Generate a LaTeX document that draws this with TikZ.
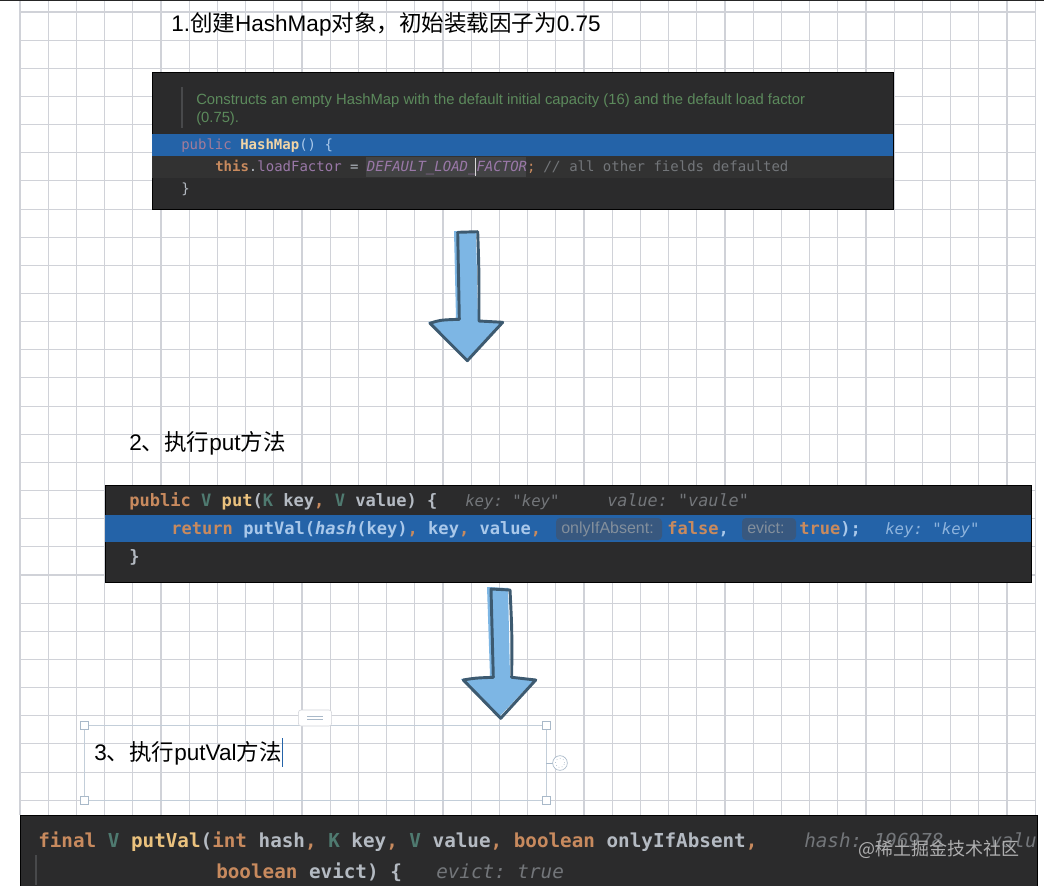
\documentclass[tikz,border=0pt]{standalone}
\usepackage{fontspec}
\setmainfont{Liberation Sans}
\setmonofont{DejaVu Sans Mono}
\newfontfamily\cjk{Noto Sans CJK SC}
\usepackage{xcolor}
\usetikzlibrary{positioning, calc}
\definecolor{gridgray}{HTML}{D0D2D8}
\definecolor{panelbg}{HTML}{2B2B2C}
\definecolor{barblue}{HTML}{2463A8}
\definecolor{rowbg}{HTML}{323232}
\definecolor{arrowfill}{HTML}{7DB6E4}
\definecolor{arrowline}{HTML}{3D5A70}
\definecolor{kwcolor}{HTML}{C88A5E}
\definecolor{fncolor}{HTML}{EBC27E}
\definecolor{plain}{HTML}{B4BAC2}
\definecolor{hint}{HTML}{73767A}
\definecolor{tycolor}{HTML}{4F7A70}
\definecolor{doccolor}{HTML}{5C8A5C}
\definecolor{purplecode}{HTML}{9A78A8}
\definecolor{onbar}{HTML}{A9C8EA}
\definecolor{inlaybg}{HTML}{38587F}
\definecolor{handlecol}{HTML}{A9B9C9}
\newcommand{\kw}[1]{\textcolor{kwcolor}{#1}}
\newcommand{\fn}[1]{\textcolor{fncolor}{#1}}
\newcommand{\ty}[1]{\textcolor{tycolor}{#1}}
\newcommand{\sep}[1]{\textcolor{kwcolor}{#1}}
\newcommand{\ob}{\itshape}
\tikzset{
  gridline/.style={gridgray, line width=0.8pt},
  panel/.style={fill=panelbg, draw=black, line width=0.6pt},
  titletext/.style={anchor=base west, inner sep=0pt, font=\fontsize{16.9}{18}\selectfont, text=black},
  doctext/.style={anchor=base west, inner sep=0pt, font=\fontsize{11.1}{13}\selectfont, text=doccolor},
  inlaytext/.style={anchor=base west, inner sep=0pt, font=\fontsize{12}{14}\selectfont, text=hint!70!onbar},
  codeA/.style={anchor=base west, inner sep=0pt, font=\ttfamily\fontsize{10.5}{12}\selectfont, text=plain},
  codeB/.style={anchor=base west, inner sep=0pt, font=\ttfamily\bfseries\fontsize{12.8}{14}\selectfont, text=plain},
  hintB/.style={anchor=base west, inner sep=0pt, font=\ttfamily\itshape\fontsize{11.75}{13}\selectfont, text=hint},
  codeC/.style={anchor=base west, inner sep=0pt, font=\ttfamily\bfseries\fontsize{14.45}{16}\selectfont, text=plain},
  hintC/.style={anchor=base west, inner sep=0pt, font=\ttfamily\itshape\fontsize{14.45}{16}\selectfont, text=hint},
  handle/.style={draw=handlecol, fill=white, line width=0.5pt, minimum size=6pt, inner sep=0pt},
  bigarrow/.style={draw=arrowline, line width=2.2pt, line join=round}
}
\begin{document}
\begin{tikzpicture}[x=0.75pt, y=-0.75pt]
  \useasboundingbox (0,0) rectangle (1044,885);
  \fill [white] (0,0) rectangle (1044,885);
  \fill [black!85] (0,0) rectangle (1044,1);
  % grid
  \foreach \col in {0,...,36} {
    \draw [gridline] ({20+28.2*\col},1) -- ({20+28.2*\col},815);
  }
  \foreach \row in {0,...,28} {
    \draw [gridline] (20,{12+28.15*\row}) -- (1036,{12+28.15*\row});
  }

  % step 1
  \node[titletext] (title1) at (171,31) {1.{\cjk 创建}HashMap{\cjk 对象，初始装载因子为}0.75};
  \draw [panel] (152,72) rectangle (893,209);
  \fill [rowbg] (152,156) rectangle (893,178);
  \fill [barblue] (152,134) rectangle (893,156);
  \draw [hint!40!panelbg, line width=1pt] (182,87) -- (182,128);
  \node[doctext] (doc1) at (196,104) {Constructs an empty HashMap with the default initial capacity (16) and the default load factor};
  \node[doctext] (doc2) at (196,122) {(0.75).};
  \node[codeA] (sig1) at (181,149) {\textcolor{purplecode!80!kwcolor}{public} \textbf{\textcolor{fncolor!70!white}{HashMap}}\textcolor{onbar}{() \{}};
  \fill [hint!25!rowbg] (366,157) rectangle (526,177);
  \node[codeA] (body1) at (215,171) {\kw{\textbf{this}}.\textcolor{purplecode}{loadFactor} = \textcolor{purplecode}{\ob DEFAULT\_LOAD\_FACTOR}\kw{;} \textcolor{hint}{{\ob//} all other fields defaulted}};
  \draw [white!85!black, line width=0.6pt] (475,158) -- (475,176);
  \node[codeA] (end1) at (181,193) {\}};

  % first arrow
  \fill [arrowfill] (454,231) -- (476,231) -- (478,321) -- (502,322) -- (466,360) -- (428,322) -- (456,319) -- cycle;
  \draw [bigarrow] (457.7,232.3) -- (477.7,231.7) .. controls (479,270) .. (479,321) -- (502.7,322.3) -- (467.3,360.7) -- (430,323.3) .. controls (440,320) .. (459.3,319.3) -- cycle;

  % step 2
  \node[titletext] (title2) at (129,450) {2{\cjk 、执行}put{\cjk 方法}};
  \draw [panel] (105,485) rectangle (1031,582);
  \fill [barblue] (105,515) rectangle (1031,542);
  \node[codeB] (sig2) at (129,506) {\kw{public} \ty{V} \fn{put}(\ty{K} key\sep{,} \ty{V} value) \{};
  \node[hintB] (hintkey) at (465,506) {key: "key"};
  \node[hintB, font=\ttfamily\itshape\fontsize{12.6}{14}\selectfont] (hintval) at (607,506) {value: "vaule"};
  \fill [inlaybg, rounded corners=3pt] (556,518) rectangle (662,540);
  \fill [inlaybg, rounded corners=3pt] (742,518) rectangle (796,540);
  \node[codeB] (ret2) at (171,534) {\kw{return}};
  \node[codeB] (body2) at (243,534) {\textcolor{onbar}{putVal({\ob hash}(key)\sep{,} key\sep{,} value\sep{,}}};
  \node[inlaytext] (inlay1) at (561,533) {onlyIfAbsent:};
  \node[codeB] (flag1) at (667,534) {\kw{false}\textcolor{onbar}{,}};
  \node[inlaytext] (inlay2) at (747,533) {evict:};
  \node[codeB] (flag2) at (799,534) {\kw{true}\textcolor{onbar}{);}};
  \node[hintB, text=onbar!80!barblue] (hint2) at (885,534) {key: "key"};
  \node[codeB] (end2) at (129,562) {\}};

  % second arrow
  \fill [arrowfill] (487,587) -- (508,588) -- (510,677) -- (535,679) -- (499,717) -- (461,679) -- (490,676) -- cycle;
  \draw [bigarrow] (491,589) -- (510,590) .. controls (512,630) .. (511.7,677.3) -- (535.7,680) -- (500.7,718.3) -- (463.3,680) .. controls (475,678) .. (493.3,677.3) -- cycle;

  % step 3, text box still being edited
  \draw [handlecol!70, line width=0.5pt] (84,725) rectangle (546,800);
  \draw [handlecol, line width=0.5pt] (546,763) -- (553,763);
  \node[handle] (h1) at (84,725) {};
  \node[handle] (h2) at (546,725) {};
  \node[handle] (h3) at (84,800) {};
  \node[handle] (h4) at (546,800) {};
  \node[draw=gridgray, fill=white, rounded corners=2pt, minimum width=25pt, minimum height=12pt, inner sep=0pt] (grip) at (315,718) {};
  \draw [handlecol, line width=0.5pt] (307,716.5) -- (323,716.5) (307,719.5) -- (323,719.5);
  \node[circle, draw=handlecol, fill=white, line width=0.5pt, minimum size=11pt, inner sep=0pt] (rot) at (560,763) {};
  \node[circle, draw=handlecol, dotted, line width=0.5pt, minimum size=7pt, inner sep=0pt] (rotin) at (560,763) {};
  \node[titletext] (title3) at (94,760) {3{\cjk 、执行}putVal{\cjk 方法}};
  \draw [barblue, line width=0.9pt] (282.5,738) -- (282.5,767);

  \draw [panel] (20,815) rectangle (1037,886);
  \draw [hint!40!panelbg, line width=0.8pt] (36,855) -- (36,885);
  \node[codeC] (sig3) at (38,847) {\kw{final} \ty{V} \fn{putVal}(\kw{int} hash\sep{,} \ty{K} key\sep{,} \ty{V} value\sep{,} \kw{boolean} onlyIfAbsent\sep{,}};
  \node[hintC] (hint3) at (804,847) {hash: 196978};
  \node[hintC] (hint4) at (990,847) {valu};
  \node[codeC] (sig4) at (216,878) {\kw{boolean} evict) \{};
  \node[hintC] (hint5) at (436,878) {evict: true};
  \node[anchor=base west, inner sep=0pt, font=\cjk\fontsize{13.5}{15}\selectfont, text=white!62!panelbg] (mark) at (858,855) {@稀土掘金技术社区};
\end{tikzpicture}
\end{document}
